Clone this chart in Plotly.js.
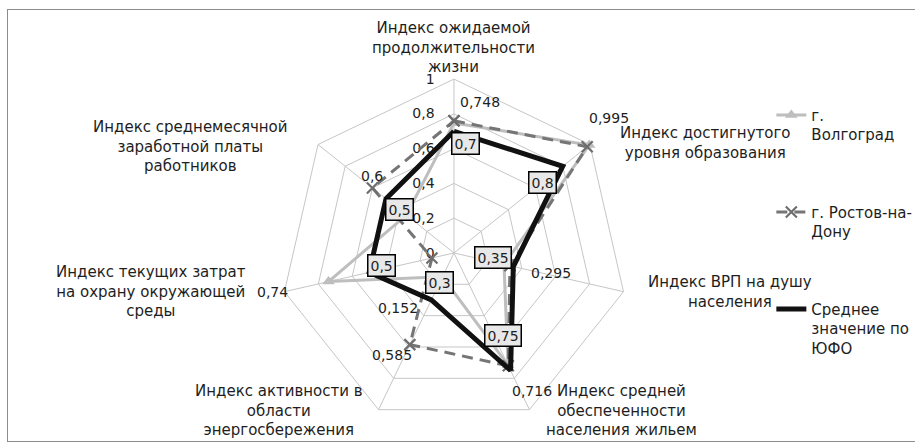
<!DOCTYPE html>
<html><head><meta charset="utf-8">
<script src="https://cdn.plot.ly/plotly-3.0.1.min.js"></script>
<style>
html,body{margin:0;padding:0;background:#fff;overflow:hidden}
#chart{position:absolute;left:0;top:0;width:915px;height:445px}
#frame{position:absolute;left:7px;top:9px;width:940px;height:431px;border:1.5px solid #8c8c8c;pointer-events:none}
</style></head><body>
<div id="chart"></div><div id="frame"></div>
<script>
// ---- data ----
const categories = [
  "Индекс ожидаемой<br>продолжительности<br>жизни",
  "Индекс достигнутого<br>уровня образования",
  "Индекс ВРП на душу<br>населения",
  "Индекс средней<br>обеспеченности<br>населения жильем",
  "Индекс активности в<br>области<br>энергосбережения",
  "Индекс текущих затрат<br>на охрану окружающей<br>среды",
  "Индекс среднемесячной<br>заработной платы<br>работников"
];
const seriesNames = ["г.<br>Волгоград", "г. Ростов-на-<br>Дону", "Среднее<br>значение по<br>ЮФО"];
const volgograd  = [0.748, 0.995, 0.295, 0.716, 0.152, 0.74, 0.35];
const rostov     = [0.76, 0.98, 0.33, 0.72, 0.585, 0.13, 0.6];
const yfoAverage = [0.7, 0.8, 0.35, 0.75, 0.3, 0.5, 0.5];
// which data labels are shown in the original
const volgogradShown = [true, true, true, true, true, true, false];
const rostovShown    = [false, false, false, false, true, false, true];
const yfoShown       = [true, true, true, true, true, true, true];

// ---- styles / label offsets (pixels, dx right, dy down) ----
const volgogradOff = [[26,-21],[20,-27],[47,9],[24,26],[-45,31],[-56,10],[0,0]];
const rostovOff    = [[0,0],[0,0],[0,0],[0,0],[-18,10],[0,0],[0,-12]];
const yfoOff       = [[12,12],[-20,16],[-20,-9],[-8,-35],[8,-17],[12,-7],[14,11]];
const categoryOff  = [[0,-32],[116,-2],[106,0],[92,1],[-100,1],[-133,0],[-128,2]];

const fmt = v => String(v).replace('.', ',');
const close = a => a.concat([a[0]]);
const theta = close(categories);
const FONT = 'DejaVu Sans, Verdana, sans-serif';
const TXT = '#1e1e1e';

const traces = [
  {type:'scatterpolar', r: close(volgograd), theta: theta, name: seriesNames[0], mode:'lines+markers',
   legendgroup:'a', line:{color:'#bebebe', width:3}, marker:{symbol:'triangle-up', size:11, color:'#bebebe'}, cliponaxis:false},
  {type:'scatterpolar', r: close(rostov), theta: theta, name: seriesNames[1], mode:'lines+markers',
   legendgroup:'b', line:{color:'#757575', width:3, dash:'11px,7px'},
   marker:{symbol:'x-thin', size:11, color:'#6e6e6e', line:{width:2.2, color:'#6e6e6e'}}, cliponaxis:false},
  {type:'scatterpolar', r: close(yfoAverage), theta: theta, name: seriesNames[2], mode:'lines',
   legendgroup:'c', line:{color:'#111', width:5}, cliponaxis:false}
];

const layout = {
  width: 915, height: 445,
  margin: {l:0, r:0, t:0, b:0, autoexpand:false},
  paper_bgcolor: '#fff',
  separators: ', ',
  font: {family: FONT, size: 14, color: TXT},
  showlegend: true,
  legend: {x: 0.843, xanchor:'left', y: 0.778, yanchor:'top', valign:'top', tracegroupgap: 55,
           bgcolor:'rgba(0,0,0,0)', font:{family:FONT, size:15, color:TXT}},
  polar: {
    domain: {x:[0.3061, 0.6862], y:[0.0405, 0.8225]},
    gridshape: 'linear',
    bgcolor: '#fff',
    angularaxis: {direction:'clockwise', rotation:90, showline:true, linecolor:'#c6c6c6', linewidth:1,
                  gridcolor:'#c6c6c6', gridwidth:1, ticks:'', layer:'below traces', showticklabels:false},
    radialaxis: {range:[0,1], dtick:0.2, tick0:0, angle:90, side:'counterclockwise', showline:false,
                 ticks:'outside', ticklen:14, tickcolor:'rgba(0,0,0,0)', tickangle:90,
                 gridcolor:'#c6c6c6', layer:'below traces',
                 tickfont:{family:FONT, size:14, color:TXT}}
  }
};

Plotly.newPlot('chart', traces, layout, {staticPlot:true}).then(function(gd){
  const fl = gd._fullLayout;
  const sp = fl.polar && fl.polar._subplot;
  const sz = fl._size;
  let cx, cy, R;
  if (sp && isFinite(sp.cx) && isFinite(sp.radius)) { cx = sp.cx; cy = sp.cy; R = sp.radius; }
  else {
    const d = fl.polar.domain;
    const w = sz.w*(d.x[1]-d.x[0]), h = sz.h*(d.y[1]-d.y[0]);
    R = Math.min(w,h)/2; cx = sz.l + sz.w*(d.x[0]+d.x[1])/2; cy = sz.t + sz.h*(1-(d.y[0]+d.y[1])/2);
  }
  const rr = fl.polar.radialaxis.range;
  const n = categories.length;
  const rot = fl.polar.angularaxis.rotation;
  const dir = fl.polar.angularaxis.direction === 'clockwise' ? -1 : 1;
  function pos(v, i){
    const rp = (sp && sp.radialAxis && typeof sp.radialAxis.c2p === 'function') ?
               sp.radialAxis.c2p(v) : R*(v-rr[0])/(rr[1]-rr[0]);
    const a = (rot + dir*i*360/n)*Math.PI/180;
    return [cx + rp*Math.cos(a), cy - rp*Math.sin(a)];
  }
  const toPaper = p => [(p[0]-sz.l)/sz.w, 1-(p[1]-sz.t)/sz.h];
  const ann = [];
  // category labels, placed outside each spoke end
  categories.forEach(function(c, i){
    const p = toPaper(pos(rr[1], i));
    ann.push({text: c, xref:'paper', yref:'paper', x: p[0], y: p[1], showarrow:false,
      xanchor:'center', yanchor:'middle', align:'center',
      xshift: categoryOff[i][0], yshift: -categoryOff[i][1],
      font:{family:FONT, size:15, color:TXT}});
  });
  function addLabels(vals, shown, offs, boxed){
    vals.forEach(function(v, i){
      if (!shown[i]) return;
      const p = toPaper(pos(v, i));
      const a = {text: fmt(v), xref:'paper', yref:'paper', x: p[0], y: p[1], showarrow:false,
        xanchor:'center', yanchor:'middle',
        xshift: offs[i][0], yshift: -offs[i][1], font:{family:FONT, size:14, color:TXT}};
      if (boxed) { a.bgcolor = '#e8e8e8'; a.bordercolor = '#000'; a.borderwidth = 1.5; a.borderpad = 2; }
      ann.push(a);
    });
  }
  addLabels(volgograd, volgogradShown, volgogradOff, false);
  addLabels(rostov, rostovShown, rostovOff, false);
  addLabels(yfoAverage, yfoShown, yfoOff, true);
  return Plotly.relayout(gd, {annotations: ann});
});
</script>
</body></html>
